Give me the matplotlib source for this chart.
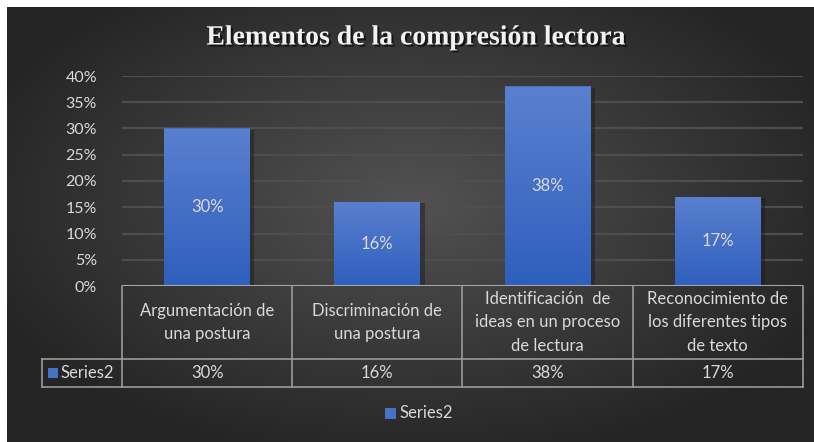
import numpy as np
import matplotlib
matplotlib.use("Agg")
import matplotlib.pyplot as plt
from matplotlib.patches import Rectangle
from matplotlib import patheffects as pe
from matplotlib.colors import LinearSegmentedColormap

categories = ["Argumentación de\nuna postura",
              "Discriminación de\nuna postura",
              "Identificación  de\nideas en un proceso\nde lectura",
              "Reconocimiento de\nlos diferentes tipos\nde texto"]
values = [0.30, 0.16, 0.38, 0.17]
value_labels = ["30%", "16%", "38%", "17%"]
series_name = "Series2"
title = "Elementos de la compresión lectora"
yticks = [0, 0.05, 0.10, 0.15, 0.20, 0.25, 0.30, 0.35, 0.40]
ytick_labels = ["0%", "5%", "10%", "15%", "20%", "25%", "30%", "35%", "40%"]

W, H = 814, 442
fig = plt.figure(figsize=(W / 100, H / 100), dpi=100)
fig.patch.set_facecolor("white")

# background radial gradient
bg = fig.add_axes([7 / W, 0, 1 - 7 / W, 1 - 7 / H])
bg.set_axis_off()
yy, xx = np.mgrid[0:1:300j, 0:1:600j]
r = np.sqrt(((xx - 0.5) / 0.75) ** 2 + ((yy - 0.55) / 0.8) ** 2)
r = np.clip(r / 0.75, 0, 1)
c0 = np.array([0x52, 0x52, 0x52]) / 255
c1 = np.array([0x25, 0x25, 0x25]) / 255
img = c0[None, None, :] * (1 - r[..., None]) + c1[None, None, :] * r[..., None]
bg.imshow(img, aspect="auto", extent=[0, 1, 0, 1], origin="lower")
bg.set_xlim(0, 1)
bg.set_ylim(0, 1)

TXT = "#d9d9d9"
FONT = "Lato"
FS = 12

ax = fig.add_axes([122 / W, 1 - 286 / H, (803 - 122) / W, (286 - 76) / H])
ax.set_facecolor("none")
for s in ax.spines.values():
    s.set_visible(False)
ax.set_yticks(yticks)
ax.set_yticklabels(ytick_labels, color=TXT, fontsize=11.5, family=FONT)
ax.tick_params(axis="y", length=0, pad=18)
ax.set_xticks([])
for t in yticks[1:]:
    ax.axhline(t, color="#4e4e4e", lw=1.6, zorder=0)

x = np.arange(len(values))
bw = 0.505
cmap = LinearSegmentedColormap.from_list("b", ["#2f5fbd", "#5a80cf"])
grad = np.linspace(0, 1, 256).reshape(-1, 1)
for xi, v, lab in zip(x, values, value_labels):
    sh = Rectangle((xi - bw / 2 + 0.025, 0), bw, v - 0.002, facecolor="#1a1a1a",
                   alpha=0.45, edgecolor="none", zorder=1)
    ax.add_patch(sh)
    bars = ax.bar([xi], [v], width=bw, color="#4472c4", zorder=2)
    b = bars[0]
    im = ax.imshow(grad, cmap=cmap, extent=[xi - bw / 2, xi + bw / 2, 0, v],
                   origin="lower", aspect="auto", zorder=3)
    im.set_clip_path(b)
    ax.text(xi, v / 2, lab, ha="center", va="center", color=TXT, fontsize=FS,
            family=FONT, zorder=4)
ax.set_aspect("auto")
ax.set_xlim(-0.5, 3.5)
ax.set_ylim(0, 0.40)
ax.axhline(0, color="#a6a6a6", lw=1.5, zorder=5)

# data table
ax_h = 286 - 76
y_hdr = -(359 - 286) / ax_h
y_bot = -(387 - 286) / ax_h
left_frac = (42 - 122) / (803 - 122)
tr = ax.transAxes
LC = "#9a9a9a"
def line(x0, y0, x1, y1):
    ax.plot([x0, x1], [y0, y1], transform=tr, color=LC, lw=1.2, clip_on=False, zorder=6)

ncat = len(categories)
for i in range(ncat + 1):
    xf = i / ncat
    line(xf, 0, xf, y_bot)
line(left_frac, y_hdr, 1, y_hdr)
line(left_frac, y_bot, 1, y_bot)
line(left_frac, y_hdr, left_frac, y_bot)
for i, (cat, lab) in enumerate(zip(categories, value_labels)):
    xc = (i + 0.5) / ncat
    ax.text(xc, y_hdr / 2, cat, transform=tr, ha="center", va="center",
            color=TXT, fontsize=FS, family=FONT, linespacing=1.55, clip_on=False)
    ax.text(xc, (y_hdr + y_bot) / 2, lab, transform=tr, ha="center", va="center",
            color=TXT, fontsize=FS, family=FONT, clip_on=False)
# series cell
ym = (y_hdr + y_bot) / 2
sq = 10 / (803 - 122)
ax.add_patch(Rectangle((left_frac + 6 / 681, ym - 5 / ax_h), sq, 10 / ax_h,
                       transform=tr, facecolor="#4472c4", clip_on=False, zorder=7))
ax.text(left_frac + 19 / 681, ym, series_name, transform=tr, ha="left", va="center",
        color=TXT, fontsize=FS, family=FONT, clip_on=False)

# legend
fig.patches.append(Rectangle((385 / W, 1 - 419 / H), 11 / W, 11 / H,
                             transform=fig.transFigure, facecolor="#4472c4",
                             edgecolor="none"))
fig.text(399 / W, 1 - 413 / H, series_name, ha="left", va="center", color=TXT,
         fontsize=FS, family=FONT)

# title
t = fig.text(416 / W, 1 - 38 / H, title, ha="center", va="center", color="#f2f2f2",
             fontsize=20, fontweight="bold", family="Liberation Serif")
t.set_path_effects([pe.withSimplePatchShadow(offset=(1.5, -1.5), shadow_rgbFace="black", alpha=0.6)])

fig.savefig("out.png", dpi=100, facecolor="white")
